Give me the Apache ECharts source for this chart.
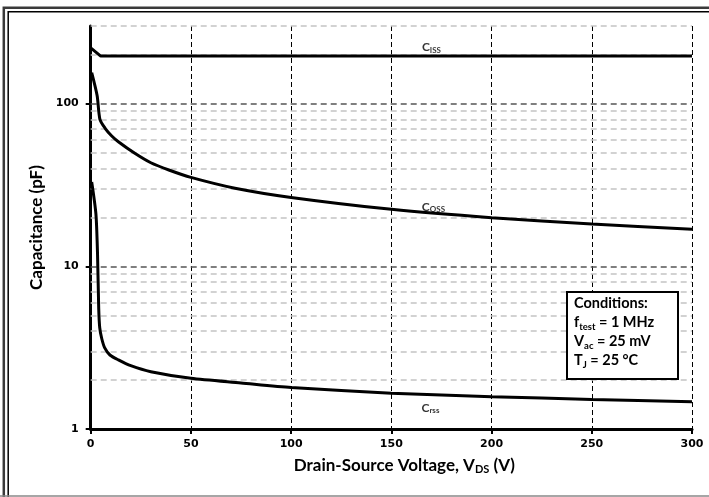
<!DOCTYPE html>
<html>
<head>
<meta charset="utf-8">
<script src="https://cdn.jsdelivr.net/npm/echarts@6/dist/echarts.min.js"></script>
<style>
html,body{margin:0;padding:0;background:#fff;}
#chart{width:709px;height:497px;}
</style>
</head>
<body>
<div id="chart"></div>
<script>
// ---- data ----
const xTicks = [0, 50, 100, 150, 200, 250, 300];
const yMajor = [1, 10, 100];
const yMinor = [2,3,4,5,6,7,8,9,20,30,40,50,60,70,80,90,200,300];

const cissV = [0, 5, 300];
const cissC = [220, 196, 196];

const cossV = [0.5, 3.2, 4.6, 7.2, 10.5, 13.8, 22, 30, 39, 50, 72, 100, 150, 200, 250, 300];
const cossC = [155, 112, 80, 70.5, 63.2, 58.3, 49.5, 43.3, 39.1, 35.2, 30.2, 26.5, 22.4, 19.9, 18.2, 16.9];

const crssV = [0.5, 2.6, 3.4, 4.0, 4.5, 5.5, 7, 9.6, 13.8, 20, 30, 50, 75, 100, 150, 200, 250, 300];
const crssC = [33, 21, 12, 5.5, 4.2, 3.6, 3.15, 2.85, 2.66, 2.45, 2.25, 2.05, 1.92, 1.8, 1.66, 1.58, 1.52, 1.47];

const curveLabels = [
  {name: 'ISS', v: 170, c: 223},
  {name: 'OSS', v: 171, c: 23.2},
  {name: 'rss', v: 169.5, c: 1.35}
];

const FONT = 'Lato';
const zip = (a, b) => a.map((v, i) => [v, b[i]]);

const chart = echarts.init(document.getElementById('chart'));

const curveStyle = {color: '#000', width: 3};
const option = {
  animation: false,
  backgroundColor: '#fff',
  grid: {left: 90.7, right: 17, top: 26, bottom: 68, containLabel: false},
  xAxis: {
    type: 'value', min: 0, max: 300, interval: 50,
    axisLine: {show: true, lineStyle: {color: '#000', width: 3}},
    axisTick: {show: true, length: 5, lineStyle: {color: '#000', width: 2}},
    axisLabel: {color: '#000', fontFamily: 'DejaVu Sans', fontWeight: 'bold', fontSize: 11, margin: 10},
    splitLine: {show: true, lineStyle: {color: '#000', width: 1, type: [5, 3]}},
    name: '{t|Drain-Source Voltage, V}{s|DS}{t| (V)}',
    nameLocation: 'middle', nameGap: 27,
    nameTextStyle: {
      padding: [0, 0, 0, 26],
      rich: {
        t: {fontFamily: FONT, fontWeight: 'bold', fontSize: 17, color: '#000'},
        s: {fontFamily: FONT, fontWeight: 'bold', fontSize: 11, color: '#000', verticalAlign: 'bottom', padding: [8, 0, 0, 0]}
      }
    }
  },
  yAxis: {
    type: 'log', logBase: 10, min: 1, max: 300,
    axisLine: {show: true, lineStyle: {color: '#000', width: 3}},
    axisTick: {show: true, length: 5, customValues: yMajor, lineStyle: {color: '#000', width: 2}},
    axisLabel: {customValues: yMajor, color: '#000', fontFamily: 'DejaVu Sans', fontWeight: 'bold', fontSize: 11, margin: 12},
    splitLine: {show: false},
    minorTick: {show: false}, minorSplitLine: {show: false},
    name: 'Capacitance (pF)',
    nameLocation: 'middle', nameGap: 45,
    nameTextStyle: {fontFamily: FONT, fontWeight: 'bold', fontSize: 17, color: '#000'}
  },
  series: [
    {
      type: 'line', data: [], silent: true, z: 1,
      markLine: {
        silent: true, symbol: 'none', animation: false,
        label: {show: false},
        lineStyle: {color: '#c4c4c4', width: 1.5, type: [6, 4]},
        data: yMinor.map(v => ({yAxis: v}))
      }
    },
    {
      type: 'line', data: [], silent: true, z: 1,
      markLine: {
        silent: true, symbol: 'none', animation: false,
        label: {show: false},
        lineStyle: {color: '#555', width: 1.5, type: [6, 4]},
        data: yMajor.filter(v => v > 1).map(v => ({yAxis: v}))
      }
    },
    {type: 'line', data: zip(cissV, cissC), showSymbol: false, smooth: false, lineStyle: curveStyle, z: 5},
    {type: 'line', data: zip(cossV, cossC), showSymbol: false, smooth: 0.25, lineStyle: curveStyle, z: 5},
    {type: 'line', data: zip(crssV, crssC), showSymbol: false, smooth: 0.25, lineStyle: curveStyle, z: 5},
    {
      type: 'scatter', symbolSize: 0, z: 6, silent: true,
      data: curveLabels.map(l => ({value: [l.v, l.c], sub: l.name})),
      label: {
        show: true, position: 'inside',
        formatter: p => '{c|C}{s|' + p.data.sub + '}',
        rich: {
          c: {fontFamily: FONT, fontWeight: 'bold', fontSize: 12, color: '#000'},
          s: {fontFamily: FONT, fontWeight: 'bold', fontSize: 8, color: '#000', verticalAlign: 'bottom', padding: [6, 0, 0, 0]}
        }
      }
    }
  ],
  graphic: [
    {type: 'rect', shape: {x: 3.8, y: 7.8, width: 720, height: 520}, style: {fill: 'none', stroke: '#3a3a3a', lineWidth: 2.5}, silent: true},
    {type: 'rect', shape: {x: 8.2, y: 11.8, width: 720, height: 520}, style: {fill: 'none', stroke: '#000', lineWidth: 1.5}, silent: true},
    {type: 'line', shape: {x1: 0, y1: 496, x2: 709, y2: 496}, style: {stroke: '#888', lineWidth: 1.5}, silent: true},
    {type: 'rect', shape: {x: 567, y: 292, width: 111, height: 87}, style: {fill: '#fff', stroke: '#000', lineWidth: 2}, z: 100},
    {
      type: 'text', left: 574, top: 296, z: 101,
      style: {
        text: '{t|Conditions:}\n{t|f}{s|test}{t| = 1 MHz}\n{t|V}{s|ac}{t| = 25 mV}\n{t|T}{s|J}{t| = 25 °C}',
        rich: {
          t: {fontFamily: FONT, fontWeight: 'bold', fontSize: 14.5, color: '#000', lineHeight: 19},
          s: {fontFamily: FONT, fontWeight: 'bold', fontSize: 9.5, color: '#000', lineHeight: 19, verticalAlign: 'bottom', padding: [6, 0, 0, 0]}
        }
      }
    }
  ]
};
chart.setOption(option);
</script>
</body>
</html>
